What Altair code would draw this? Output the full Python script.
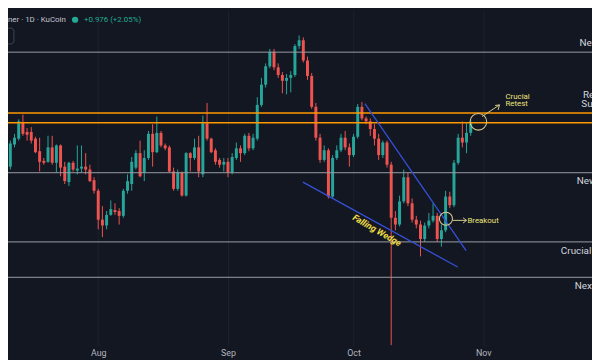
import altair as alt
import pandas as pd

# ---------------- data ----------------
dates = pd.date_range("2023-07-11", periods=111, freq="D").strftime("%Y-%m-%d").tolist()

open_ = [43.8, 46.1, 46.7, 48.4, 47.4, 47.4, 46.7, 45.4, 44.4, 44.3,
         45.8, 44.2, 46.0, 43.8, 42.2, 44.2, 43.4, 43.6, 43.8, 43.5,
         42.4, 41.3, 38.3, 37.7, 38.8, 39.3, 39.2, 38.7, 41.3, 42.0,
         43.7, 45.2, 43.2, 44.7, 47.2, 45.3, 47.3, 46.0, 45.8, 43.3,
         41.5, 43.2, 40.8, 45.2, 44.7, 45.8, 43.0, 48.3, 46.7, 45.5,
         44.5, 44.0, 44.3, 43.2, 44.7, 45.7, 45.2, 47.0, 45.7, 46.7,
         50.2, 52.3, 54.2, 55.7, 54.1, 53.3, 52.7, 53.0, 53.3, 56.3,
         56.9, 54.8, 53.2, 50.0, 46.8, 44.5, 45.5, 40.7, 44.7, 45.5,
         46.8, 45.8, 45.0, 46.9, 50.0, 48.8, 48.5, 47.7, 46.7, 45.0,
         46.3, 44.0, 38.5, 37.8, 40.2, 42.7, 40.0, 38.3, 37.8, 36.3,
         37.7, 38.2, 38.7, 36.3, 37.2, 40.7, 39.8, 44.2, 46.8, 46.3,
         47.3]
close = [46.2, 46.8, 48.5, 47.2, 47.1, 46.5, 45.3, 44.3, 44.2, 45.8,
         44.2, 46.0, 43.7, 42.3, 44.2, 43.5, 43.6, 43.8, 43.5, 42.3,
         41.3, 38.3, 37.7, 38.8, 39.4, 39.1, 38.7, 41.3, 42.3, 44.3,
         45.2, 42.8, 44.7, 47.2, 45.3, 47.3, 46.0, 45.7, 43.3, 41.5,
         43.2, 40.8, 45.2, 44.7, 45.8, 43.3, 48.3, 46.7, 45.3, 44.3,
         44.0, 44.3, 43.2, 44.8, 45.7, 45.2, 47.0, 45.7, 46.8, 50.2,
         52.3, 54.2, 55.7, 54.1, 53.3, 52.7, 53.0, 53.3, 56.3, 56.9,
         54.8, 53.2, 50.0, 46.8, 44.5, 45.5, 40.7, 44.7, 45.5, 46.8,
         45.8, 45.0, 46.9, 50.0, 48.8, 48.5, 47.7, 46.7, 45.0, 46.3,
         44.0, 38.5, 37.8, 40.2, 42.7, 40.0, 38.3, 37.8, 36.3, 37.7,
         38.2, 38.7, 36.3, 37.2, 40.7, 39.8, 44.2, 46.8, 46.3, 47.3,
         48.3]
high = [46.5, 47.2, 48.7, 49.2, 47.8, 47.9, 46.9, 46.8, 44.7, 47.0,
        47.0, 46.1, 46.1, 44.3, 44.3, 44.4, 46.0, 46.0, 45.2, 44.0,
        42.7, 41.5, 39.7, 39.2, 40.3, 40.0, 39.5, 41.5, 43.0, 44.8,
        45.5, 46.5, 45.5, 47.5, 48.2, 49.0, 47.5, 46.2, 46.0, 43.7,
        43.5, 43.3, 45.3, 45.3, 46.7, 47.0, 49.1, 50.4, 46.8, 45.7,
        44.7, 44.7, 44.7, 45.2, 46.3, 46.0, 47.2, 47.3, 47.2, 51.0,
        53.0, 54.5, 56.0, 56.0, 54.5, 53.6, 53.4, 53.7, 56.5, 57.4,
        57.2, 55.2, 53.5, 50.4, 47.2, 46.0, 45.7, 45.0, 46.0, 47.2,
        47.5, 46.2, 47.2, 50.3, 50.5, 49.0, 48.8, 48.2, 47.2, 46.5,
        46.5, 44.3, 39.2, 40.8, 43.5, 43.2, 40.5, 38.7, 38.2, 38.0,
        39.0, 40.0, 39.0, 37.8, 41.3, 41.2, 44.5, 47.2, 48.5, 48.3,
        48.7]
low = [43.5, 45.8, 46.5, 47.0, 46.5, 46.2, 45.2, 43.3, 44.0, 44.2,
       44.0, 43.2, 42.8, 42.0, 41.8, 43.3, 43.0, 43.2, 43.0, 42.2,
       41.0, 37.3, 36.5, 37.3, 38.7, 38.8, 37.8, 38.5, 41.0, 41.3,
       43.5, 42.7, 42.3, 44.5, 43.8, 45.2, 45.8, 45.5, 43.2, 41.3,
       41.3, 40.7, 40.7, 43.3, 44.5, 42.7, 42.7, 46.5, 45.2, 44.0,
       43.7, 43.3, 42.7, 43.0, 44.5, 44.3, 45.0, 45.4, 45.5, 46.5,
       50.0, 52.0, 54.0, 53.8, 53.0, 51.4, 51.3, 51.5, 53.1, 56.0,
       54.6, 52.8, 49.8, 46.5, 44.2, 44.3, 40.5, 40.5, 44.5, 45.3,
       45.5, 43.8, 44.8, 46.7, 48.6, 48.2, 47.0, 46.0, 44.5, 44.7,
       43.7, 25.3, 37.2, 37.6, 40.0, 39.7, 38.0, 37.4, 34.5, 36.0,
       37.4, 38.0, 36.0, 35.5, 37.0, 39.5, 39.6, 44.0, 45.8, 45.2,
       47.0]

# horizontal levels
level_prices = [55.67, 43.17, 36.0, 32.33]   # grey
orange_prices = [49.35, 48.35]               # orange

# level labels (cut off at right edge)
label_text = ["New Resistance", "Resistance", "Support", "New Support", "Crucial Support", "Next Support"]
label_date = ["2023-11-24T00:00:00Z", "2023-11-24T20:00:00Z", "2023-11-24T10:00:00Z",
              "2023-11-23T08:00:00Z", "2023-11-19T13:00:00Z", "2023-11-22T20:00:00Z"]
label_price = [56.6, 51.25, 50.25, 42.3, 35.1, 31.4]

# falling wedge lines
wedge_x = ["2023-10-03T17:20:00Z", "2023-09-18T21:50:00Z"]
wedge_x2 = ["2023-10-27T21:40:00Z", "2023-10-25T21:10:00Z"]
wedge_y = [50.33, 42.2]
wedge_y2 = [35.1, 33.4]

# annotation circles
circ_date = ["2023-10-23T02:00:00Z", "2023-10-30T20:00:00Z"]
circ_price = [38.4, 48.45]
circ_size = [177, 283]

# arrows (segments)
arr_x = ["2023-10-24T17:20:00Z", "2023-10-27T04:00:00Z", "2023-10-27T04:00:00Z",
         "2023-10-31T17:00:00Z", "2023-11-03T20:00:00Z", "2023-11-04T13:00:00Z"]
arr_x2 = ["2023-10-28T00:00:00Z", "2023-10-28T00:00:00Z", "2023-10-28T00:00:00Z",
          "2023-11-04T21:00:00Z", "2023-11-04T21:00:00Z", "2023-11-04T21:00:00Z"]
arr_y = [38.23, 38.5, 37.95, 49.0, 50.14, 49.68]
arr_y2 = [38.23, 38.23, 38.23, 50.2, 50.2, 50.2]

# annotation texts
note_text = ["Breakout", "Crucial", "Retest"]
note_date = ["2023-10-28T05:00:00Z", "2023-11-06T07:00:00Z", "2023-11-06T07:00:00Z"]
note_price = [38.2, 51.0, 50.25]

month_ticks = ["2023-08-01", "2023-09-01", "2023-10-01", "2023-11-01"]

# ---------------- chart ----------------
BG = "#131722"
UP, DOWN = "#26a69a", "#ef5350"

df = pd.DataFrame({"date": dates, "open": open_, "close": close, "high": high, "low": low})
df["dir"] = ["up" if c >= o else "down" for o, c in zip(open_, close)]


def ms(s):
    t = pd.Timestamp(s)
    if t.tzinfo is None:
        t = t.tz_localize("UTC")
    return int(t.value // 10**6)


xdom = [ms("2023-07-10T10:34:00Z"), ms("2023-11-26T23:30:00Z")]
xscale = alt.Scale(type="utc", domain=xdom, padding=0, nice=False)
yscale = alt.Scale(domain=[25.23, 60.0], nice=False, zero=False, padding=0)

xaxis = alt.Axis(values=[ms(d) for d in month_ticks], format="%b", labelColor="#b2b5be",
                 labelFontSize=9, labelFont="Roboto", ticks=False, domain=False, grid=True,
                 gridColor="#1e222d", gridWidth=1, labelPadding=3, title=None, minExtent=0)

X = alt.X("date:T", scale=xscale, axis=xaxis)
color = alt.Color("dir:N", scale=alt.Scale(domain=["up", "down"], range=[UP, DOWN]), legend=None)

base = alt.Chart(df)
wicks = base.mark_rule(strokeWidth=1).encode(
    x=X, y=alt.Y("low:Q", scale=yscale, axis=None), y2="high:Q", color=color)
bodies = base.mark_rule(strokeWidth=3, strokeCap="butt").encode(
    x=X, y=alt.Y("open:Q", scale=yscale, axis=None), y2="close:Q", color=color)

grey = alt.Chart(pd.DataFrame({"p": level_prices})).mark_rule(color="#9a9da6", strokeWidth=1).encode(
    y=alt.Y("p:Q", scale=yscale, axis=None))
orange = alt.Chart(pd.DataFrame({"p": orange_prices})).mark_rule(color="#ff9800", strokeWidth=1.5).encode(
    y=alt.Y("p:Q", scale=yscale, axis=None))

wedge = alt.Chart(pd.DataFrame({"x": wedge_x, "x2": wedge_x2, "y": wedge_y, "y2": wedge_y2})).mark_rule(
    color="#3550d8", strokeWidth=1.3).encode(
    x=alt.X("x:T", scale=xscale, axis=xaxis), x2="x2:T",
    y=alt.Y("y:Q", scale=yscale, axis=None), y2="y2:Q")

wedge_text = alt.Chart(pd.DataFrame({"d": ["2023-10-06T14:00:00Z"], "p": [37.2], "t": ["Falling Wedge"]})).mark_text(
    angle=30, color="#f0dd45", fontSize=9, font="Roboto", fontStyle="italic", fontWeight="bold").encode(
    x=alt.X("d:T", scale=xscale, axis=xaxis), y=alt.Y("p:Q", scale=yscale, axis=None), text="t:N")

circles = alt.Chart(pd.DataFrame({"d": circ_date, "p": circ_price, "s": circ_size})).mark_point(
    shape="circle", filled=False, color="#d6c98c", strokeWidth=1.1, opacity=1).encode(
    x=alt.X("d:T", scale=xscale, axis=xaxis), y=alt.Y("p:Q", scale=yscale, axis=None),
    size=alt.Size("s:Q", scale=None, legend=None))

arrows = alt.Chart(pd.DataFrame({"x": arr_x, "x2": arr_x2, "y": arr_y, "y2": arr_y2})).mark_rule(
    color="#d6c98c", strokeWidth=1).encode(
    x=alt.X("x:T", scale=xscale, axis=xaxis), x2="x2:T",
    y=alt.Y("y:Q", scale=yscale, axis=None), y2="y2:Q")

notes = alt.Chart(pd.DataFrame({"d": note_date, "p": note_price, "t": note_text})).mark_text(
    align="left", baseline="middle", color="#ece27a", fontSize=8, font="Roboto").encode(
    x=alt.X("d:T", scale=xscale, axis=xaxis), y=alt.Y("p:Q", scale=yscale, axis=None), text="t:N")

labels = alt.Chart(pd.DataFrame({"d": label_date, "p": label_price, "t": label_text})).mark_text(
    align="left", baseline="middle", color="#d1d4dc", fontSize=10, font="Roboto", clip=True).encode(
    x=alt.X("d:T", scale=xscale, axis=xaxis), y=alt.Y("p:Q", scale=yscale, axis=None), text="t:N")

one = pd.DataFrame({"a": [0]})
hdr1 = alt.Chart(one).mark_text(align="left", baseline="middle", color="#c3c6ce", fontSize=8,
                                font="Roboto", text="ner · 1D · KuCoin").encode(
    x=alt.value(0), y=alt.value(10))
hdr_dot = alt.Chart(one).mark_point(shape="circle", filled=True, color="#22ab94", size=40, opacity=1).encode(
    x=alt.value(68), y=alt.value(9.5))
hdr2 = alt.Chart(one).mark_text(align="left", baseline="middle", color="#22ab94", fontSize=8,
                                font="Roboto", text="+0.976 (+2.05%)").encode(
    x=alt.value(77), y=alt.value(10))
hdr_box = alt.Chart(one).mark_rect(fill=BG, stroke="#434651", strokeWidth=1, cornerRadius=3, clip=True).encode(
    x=alt.value(-6), x2=alt.value(6), y=alt.value(18), y2=alt.value(34))

chart = alt.layer(
    wicks, bodies, grey, orange, wedge, wedge_text, circles, arrows, notes, labels,
    hdr_box, hdr1, hdr_dot, hdr2
).properties(
    width=592, height=340, background=BG,
    autosize=alt.AutoSizeParams(type="none"),
    padding={"left": 0, "right": 0, "top": 0, "bottom": 12}
).configure_view(stroke=None)

chart.save("out.html", embed_options={"renderer": "svg", "actions": False})
